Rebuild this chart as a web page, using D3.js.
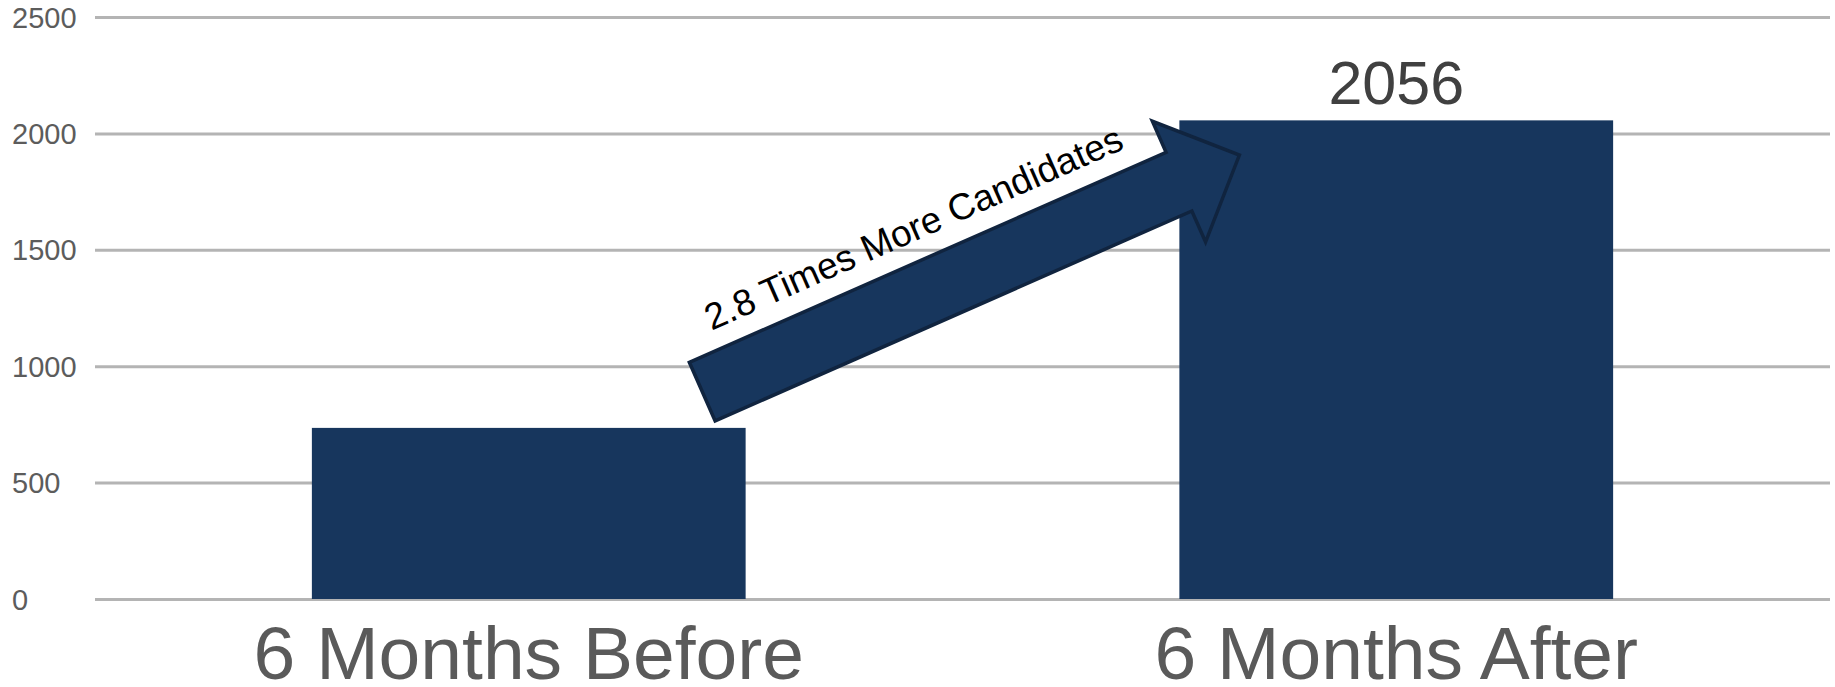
<!DOCTYPE html>
<html>
<head>
<meta charset="utf-8">
<script src="https://cdn.jsdelivr.net/npm/d3@7"></script>
<style>
  body { margin: 0; background: #fff; }
  svg { display: block; font-family: "Liberation Sans", Arial, sans-serif; }
</style>
</head>
<body>
<svg id="chart" width="1835" height="687"></svg>
<script>
let categories = ["6 Months Before", "6 Months After"];
let candidates = [735, 2056];
let yTicks = [0, 500, 1000, 1500, 2000, 2500];
let labelled = [false, true];
let arrowText = "2.8 Times More Candidates";
// arrow runs from ~891 (next to first bar) up to ~1907 (into second bar)
let arrowFromValue = 891;
let arrowToValue = 1907;

let svg = d3.select('#chart');
let plotLeft = 95, plotRight = 1830, plotTop = 17, plotBottom = 599;
let barColor = '#17365d';

let x = d3.scaleBand()
  .domain(categories)
  .range([plotLeft, plotRight])
  .paddingInner(0.5)
  .paddingOuter(0.25);

let y = d3.scaleLinear()
  .domain([0, 2500])
  .range([plotBottom, plotTop]);

// grid + y labels
let yAxis = svg.append('g')
  .attr('transform', 'translate(' + plotLeft + ',0)')
  .call(d3.axisLeft(y).tickValues(yTicks).tickSize(-(plotRight - plotLeft)).tickFormat(d3.format('d')));
yAxis.select('.domain').remove();
yAxis.selectAll('.tick line')
  .attr('stroke', '#b4b4b4')
  .attr('stroke-width', 3);
yAxis.selectAll('.tick text')
  .attr('x', 12 - plotLeft)
  .attr('dy', '0.35em')
  .attr('text-anchor', 'start')
  .attr('fill', '#5c5c5c')
  .style('font-size', '29px')
  .style('font-family', '"Liberation Sans", Arial, sans-serif');

// bars
svg.selectAll('rect.bar')
  .data(candidates)
  .enter()
  .append('rect')
  .attr('class', 'bar')
  .attr('x', (d, i) => x(categories[i]))
  .attr('y', d => y(d))
  .attr('width', x.bandwidth())
  .attr('height', d => y(0) - y(d))
  .attr('fill', barColor);

// value label
svg.selectAll('text.val')
  .data(candidates.filter((d, i) => labelled[i]))
  .enter()
  .append('text')
  .attr('class', 'val')
  .attr('x', d => x(categories[candidates.indexOf(d)]) + x.bandwidth() / 2)
  .attr('y', d => y(d) - 16)
  .attr('text-anchor', 'middle')
  .attr('fill', '#404040')
  .style('font-size', '61px')
  .text(d => d);

// x labels
let xAxis = svg.append('g')
  .attr('transform', 'translate(0,' + plotBottom + ')')
  .call(d3.axisBottom(x).tickSize(0));
xAxis.select('.domain').remove();
xAxis.selectAll('.tick text')
  .attr('y', 80)
  .attr('dy', 0)
  .attr('fill', '#5a5a5a')
  .style('font-size', '75px')
  .style('font-family', '"Liberation Sans", Arial, sans-serif');

// block arrow annotation
let tailX = x(categories[0]) + x.bandwidth() * 0.9;
let tailY = y(arrowFromValue);
let tipX = x(categories[1]) + 60;
let tipY = y(arrowToValue);
let dx = tipX - tailX, dy = tipY - tailY;
let len = Math.sqrt(dx * dx + dy * dy);
let angle = Math.atan2(dy, dx) * 180 / Math.PI;
let shaftHalf = 32, headHalf = 66, headLen = 66;

let arrow = svg.append('g')
  .attr('transform', 'translate(' + tailX + ',' + tailY + ') rotate(' + angle + ')');
arrow.append('path')
  .attr('d', 'M0,' + (-shaftHalf) +
    ' L' + (len - headLen) + ',' + (-shaftHalf) +
    ' L' + (len - headLen) + ',' + (-headHalf) +
    ' L' + len + ',0' +
    ' L' + (len - headLen) + ',' + headHalf +
    ' L' + (len - headLen) + ',' + shaftHalf +
    ' L0,' + shaftHalf + ' Z')
  .attr('fill', barColor)
  .attr('stroke', '#10243f')
  .attr('stroke-width', 3.5)
  .attr('stroke-linejoin', 'miter');
arrow.append('text')
  .attr('x', 33)
  .attr('y', -52)
  .attr('fill', '#000')
  .style('font-size', '37px')
  .text(arrowText);
</script>
</body>
</html>
